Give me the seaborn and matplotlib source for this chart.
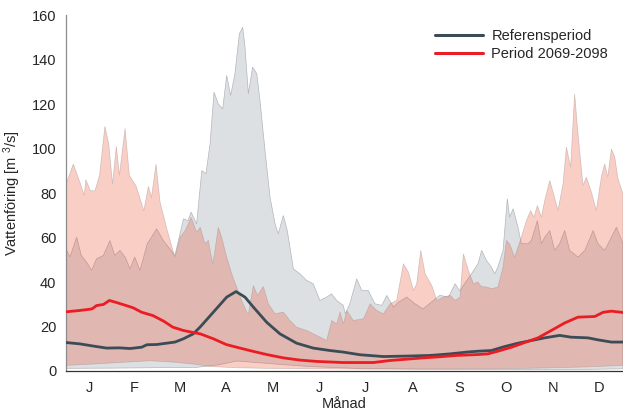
import numpy as np
import pandas as pd
import matplotlib
matplotlib.use("Agg")
import matplotlib.pyplot as plt
from matplotlib.lines import Line2D
import seaborn as sns

# --- data (day of year, flow in m3/s) ---
ref_max_day = [0, 2.6, 7, 10, 13.5, 16.8, 20, 24.5, 28.8, 32, 35.4, 38.7, 42, 45, 48.5, 53.3,
               59.4, 63.8, 68, 71.4, 77, 80, 82, 85.6, 89, 91.7, 94.4, 97, 99.8, 102.7, 105.3,
               107.9, 110.7, 113.6, 115.8, 117.3, 119.5, 122.3, 125, 127.1, 130.4, 133.7, 137,
               139.1, 142.4, 145, 149, 153.3, 157.7, 162, 166.4, 170.8, 174, 177.4, 181.7, 183,
               186, 190.5, 193.8, 198, 202.5, 207, 210.2, 214.6, 218, 223.3, 228.7, 234, 240.8,
               245, 250.6, 255, 258, 262, 266, 270, 272.4, 275.5, 278.7, 281, 283, 286.4, 289.2,
               290.7, 293, 296.2, 298.4, 302.8, 305, 308.9, 311.5, 313.7, 317, 320.2, 323.5,
               326.8, 330, 335.5, 340, 345.4, 348.6, 353, 357.4, 360.7, 365]
ref_max_val = [54.9, 51.2, 60.1, 51.9, 48.9, 45.2, 50.4, 51.9, 58.6, 51.9, 54.2, 51.2, 45.9, 51.2,
               45.2, 57.2, 63.9, 58.6, 54.9, 51.9, 68.4, 67.6, 71.4, 66.1, 90.1, 88.6, 102, 125.3,
               120, 117.8, 132.8, 123.8, 133.6, 151.5, 154.5, 145.6, 124.6, 136.6, 133.6, 121.6,
               99.1, 78.1, 66.1, 61.6, 69.9, 63.1, 45.9, 43.7, 40.7, 39.2, 31.7, 33.2, 34.7, 31.7,
               29.5, 25.7, 30.2, 41.4, 36.2, 36.2, 30.2, 29.5, 34, 28.7, 31, 33.2, 30.2, 27.9,
               31.7, 34, 33.2, 39.2, 36, 40, 44, 48.2, 54.2, 49.7, 46.7, 43.7, 46.7, 54.2, 77.4,
               69.1, 72.9, 64.6, 57.2, 57.2, 58.7, 67.6, 57.2, 60.1, 63.1, 54.2, 57.2, 63.1, 54.2,
               51.2, 54.2, 63.1, 57.2, 54.2, 60.1, 64.6, 57.2]

ref_min_day = [0, 30, 60, 85, 100, 112, 125, 140, 160, 190, 230, 270, 300, 330, 365]
ref_min_val = [1.2, 1.3, 1.5, 1.6, 2.8, 4.5, 3.8, 3.0, 2.0, 1.2, 0.8, 0.7, 0.6, 0.6, 1.0]

fut_max_day = [0, 4.8, 9, 12, 13, 16, 19, 22, 25.5, 28, 30.5, 33, 35, 38.7, 41.5, 46, 51, 54, 56,
               59, 61.6, 66, 71.4, 74.7, 78, 82, 85.6, 88, 91, 93.3, 96.1, 97.6, 99.8, 102, 105.3,
               108.6, 111.8, 115.1, 118.4, 119.5, 122.8, 125.5, 129.3, 132.6, 137, 142.4, 146.8,
               151.1, 157.7, 164.3, 170.8, 174.1, 177.4, 179.6, 181.8, 184, 188.3, 195, 199.3,
               203.6, 208, 212.4, 216.7, 221.1, 224.4, 227.7, 229.8, 232.5, 235.3, 239.7, 243,
               247.3, 251.7, 255, 258.2, 260.4, 263.7, 267, 270, 272, 276, 279, 283, 286.4, 288.6,
               290.7, 294, 298.4, 301.7, 304.5, 306.7, 308.9, 311.5, 313.7, 317, 319.8, 322.4,
               325.7, 327.9, 330.7, 333.3, 335.5, 338.8, 341, 344.3, 347.5, 350.8, 353, 355,
               357.4, 359.6, 361.7, 365]
fut_max_val = [84, 93, 85, 79, 86, 81, 81, 88, 110, 102, 84, 101, 88, 109, 88, 83, 72, 83, 78, 93,
               76, 64, 51, 60, 63, 69, 62.4, 64.6, 57.2, 58.7, 48.2, 54.2, 64.6, 60.1, 51.2, 43.7,
               37.7, 31.7, 26.5, 25.5, 38.4, 34, 38, 30.2, 25.7, 26.5, 22.7, 19.7, 18.2, 16, 13.7,
               22.7, 21.2, 26.5, 21.2, 27.2, 22.7, 23.5, 30.2, 27.2, 25.7, 30.2, 31.7, 48.2, 44.4,
               36.2, 39.2, 54.2, 43.7, 38.4, 31.7, 33.2, 34, 31.7, 33.2, 52.7, 45.2, 39.2, 40, 38,
               37.7, 37, 37.7, 46.7, 58.7, 57.2, 51.2, 60.1, 67.6, 72.1, 69.1, 74.4, 69.1, 76.6,
               85.6, 78.9, 72.1, 84.1, 100.6, 91.6, 124.6, 106.6, 83.4, 87.1, 80.4, 72.1, 87.1,
               93.1, 87.1, 99.8, 96.1, 86.4, 79.6]

fut_min_day = [0, 20, 40, 55, 70, 85, 95, 110, 130, 160, 200, 240, 280, 310, 340, 365]
fut_min_val = [2.5, 3.2, 4.0, 4.6, 4.0, 3.0, 2.0, 1.5, 1.2, 1.0, 0.8, 0.9, 1.0, 1.3, 1.8, 2.5]

ref_mean_day = [0, 9, 18, 26.6, 35, 42, 49.6, 53, 59.4, 71.4, 77, 83.4, 87.8, 96.5, 105.3, 111.4,
                117.3, 122.8, 131.5, 140.2, 151.1, 162, 173, 181.7, 192.7, 208, 223, 238.6, 251.7,
                262.6, 270, 278.7, 287.5, 296.2, 305, 313.7, 323.5, 331, 342, 348.6, 357.4, 365]
ref_mean_val = [12.8, 12.2, 11.2, 10.3, 10.4, 10.1, 10.7, 11.8, 11.9, 13.0, 14.5, 16.7, 19.7, 26.4,
                33.2, 35.7, 33.2, 28.7, 21.9, 16.7, 12.5, 10.3, 9.2, 8.5, 7.3, 6.5, 6.7, 7.0, 7.7,
                8.5, 8.9, 9.2, 11.0, 12.5, 13.7, 14.9, 16.0, 15.2, 14.9, 14.0, 13.0, 13.0]

fut_mean_day = [0, 9, 17, 20, 24.5, 28.4, 33, 40, 44, 49.6, 57, 64, 70, 77, 82, 88, 96.5, 105, 114,
                122.8, 131.5, 142.4, 153.3, 164.3, 181.7, 201.4, 212, 223, 234, 245, 256, 270,
                276.5, 283, 292, 300.6, 309.3, 318, 326.8, 335.5, 346.5, 352, 357.4, 365]
fut_mean_val = [26.6, 27.2, 27.9, 29.4, 29.9, 31.7, 30.8, 29.3, 28.4, 26.4, 24.9, 22.4, 19.7, 18.2,
                17.5, 16.7, 14.5, 11.9, 10.3, 8.8, 7.4, 5.9, 4.9, 4.3, 3.8, 3.8, 4.7, 5.3, 5.9, 6.4,
                7.0, 7.4, 7.7, 8.9, 10.7, 12.8, 14.9, 18.2, 21.6, 24.2, 24.5, 26.4, 26.9, 26.3]

month_labels = ["J", "F", "M", "A", "M", "J", "J", "A", "S", "O", "N", "D"]
month_len = [31, 28, 31, 30, 31, 30, 31, 31, 30, 31, 30, 31]
series_names = ["Referensperiod", "Period 2069-2098"]

# --- style ---
sns.set_style("white")
plt.rcParams['font.family'] = ['Liberation Sans', 'DejaVu Sans']
plt.rcParams['mathtext.default'] = 'regular'

ref_line = '#3b4c57'
fut_line = '#ec1c24'

fig = plt.figure(figsize=(6.23, 4.12), dpi=100)
ax = fig.add_axes([66 / 623, 1 - 371 / 412, 557 / 623, 356 / 412])


def band(ax, up_d, up_v, lo_d, lo_v, **kw):
    xs = np.concatenate([up_d, lo_d[::-1]])
    ys = np.concatenate([up_v, lo_v[::-1]])
    ax.fill(xs, ys, **kw)


band(ax, np.array(ref_max_day), np.array(ref_max_val), np.array(ref_min_day), np.array(ref_min_val),
     facecolor='#dde0e3', edgecolor='#b3b6ba', linewidth=0.5, zorder=1)
band(ax, np.array(fut_max_day), np.array(fut_max_val), np.array(fut_min_day), np.array(fut_min_val),
     facecolor=(0.92, 0.29, 0.17, 0.27), edgecolor=(0.62, 0.55, 0.55, 0.45), linewidth=0.5, zorder=2)

means = pd.concat([
    pd.DataFrame({'day': ref_mean_day, 'flow': ref_mean_val, 'period': series_names[0]}),
    pd.DataFrame({'day': fut_mean_day, 'flow': fut_mean_val, 'period': series_names[1]}),
])
sns.lineplot(data=means, x='day', y='flow', hue='period', ax=ax,
             palette={series_names[0]: ref_line, series_names[1]: fut_line},
             linewidth=2.0, legend=False, zorder=3, estimator=None, sort=True)

handles = [Line2D([], [], color=ref_line, lw=2.2), Line2D([], [], color=fut_line, lw=2.2)]
ax.legend(handles, series_names, loc='upper right', bbox_to_anchor=(0.997, 0.998), frameon=False,
          fontsize=10.5, handlelength=3.3, handletextpad=0.6, labelspacing=0.3)

# axes
ax.set_xlim(0, 365)
ax.set_ylim(0, 160)
ax.set_yticks(np.arange(0, 161, 20))
bounds = np.cumsum(month_len)
ax.set_xticks(bounds[:-1])
ax.set_xticklabels([])
centers = bounds - np.array(month_len) / 2
ax.set_xticks(centers, minor=True)
ax.set_xticklabels(month_labels, minor=True, fontsize=10.5)
ax.tick_params(axis='x', which='major', direction='in', length=5, width=0.8, color='#333333')
ax.tick_params(axis='x', which='minor', length=0, pad=7)
ax.tick_params(axis='y', direction='out', length=4, width=0.8, color='#808080', labelsize=10.5, pad=3)

for s in ['top', 'right']:
    ax.spines[s].set_visible(False)
ax.spines['left'].set_color('#8c8c8c')
ax.spines['left'].set_linewidth(0.9)
ax.spines['bottom'].set_color('#333333')
ax.spines['bottom'].set_linewidth(0.9)

ax.set_xlabel('Månad', fontsize=10.5, labelpad=2)
ax.set_ylabel('Vattenföring [m $^3$/s]', fontsize=10.5, labelpad=6)

fig.savefig('out.png', dpi=100)
